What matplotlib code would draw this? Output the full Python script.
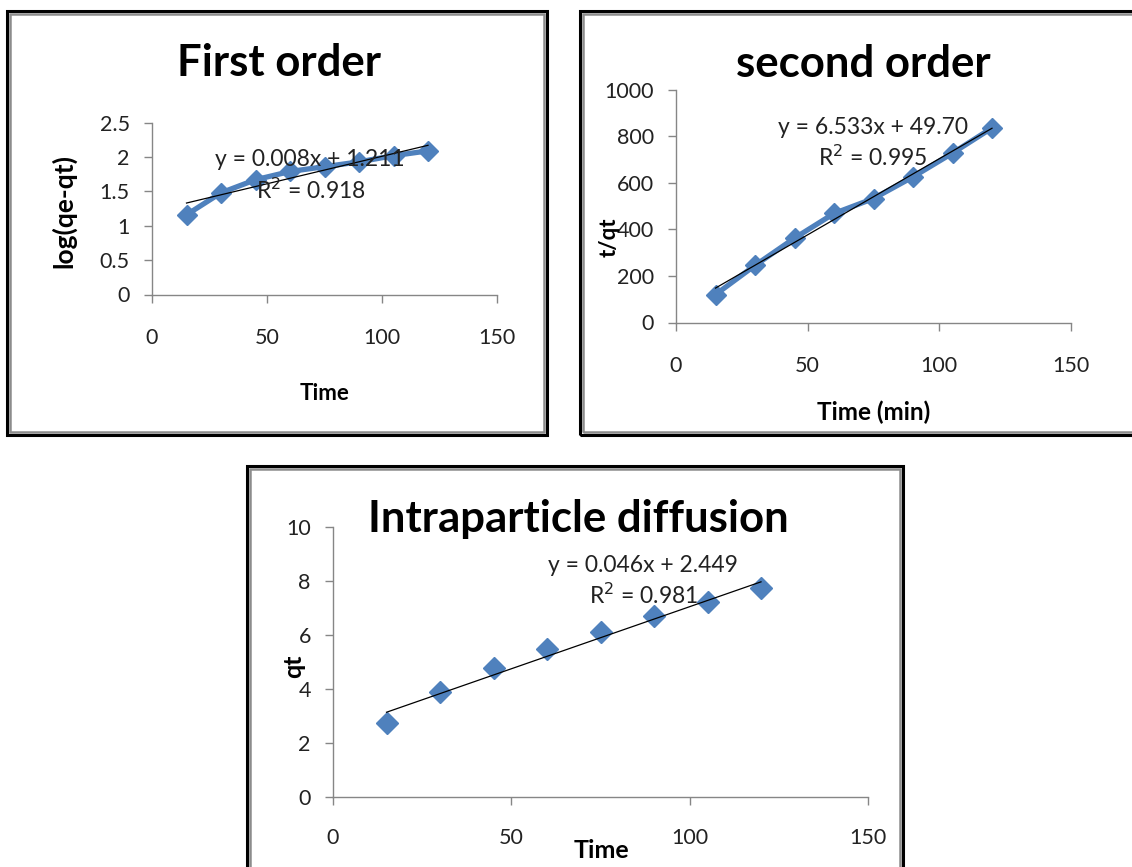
import matplotlib
matplotlib.use("Agg")
import matplotlib.pyplot as plt
from matplotlib.patches import Rectangle
import numpy as np

# ---------------- data ----------------
time = [15, 30, 45, 60, 75, 90, 105, 120]

first_order = [1.16, 1.48, 1.67, 1.79, 1.86, 1.93, 2.02, 2.09]
first_fit = (0.008, 1.211)
first_eq = "y = 0.008x + 1.211"
first_r2 = "R$^2$ = 0.918"

second_order = [120, 245, 362, 468, 532, 625, 727, 835]
second_fit = (6.533, 49.70)
second_eq = "y = 6.533x + 49.70"
second_r2 = "R$^2$ = 0.995"

intra = [2.74, 3.89, 4.78, 5.50, 6.12, 6.72, 7.24, 7.74]
intra_fit = (0.046, 2.449)
intra_eq = "y = 0.046x + 2.449"
intra_r2 = "R$^2$ = 0.981"

xticks = [0, 50, 100, 150]
yticks1 = [0, 0.5, 1, 1.5, 2, 2.5]
yticks1_lbl = ["0", "0.5", "1", "1.5", "2", "2.5"]
yticks2 = [0, 200, 400, 600, 800, 1000]
yticks3 = [0, 2, 4, 6, 8, 10]

# ---------------- layout ----------------
W, H = 1132, 867
fig = plt.figure(figsize=(W / 100, H / 100), dpi=100)
FONT = "Lato"
BLUE = "#4F81BD"
GREY = "#868686"
TXT = "#222222"


def fx(x):
    return x / W


def fy(y):
    return 1 - y / H


def add_axes(x0, x1, ytop, ybot):
    return fig.add_axes([fx(x0), fy(ybot), fx(x1 - x0), (ybot - ytop) / H])


def frame(x0, y0, x1, y1):
    # outer black border with inner grey line (Excel chart area)
    fig.patches.append(Rectangle((fx(x0), fy(y1)), fx(x1 - x0), (y1 - y0) / H,
                                 transform=fig.transFigure, fill=False,
                                 ec="black", lw=2.2, zorder=0))
    fig.patches.append(Rectangle((fx(x0 + 3), fy(y1 - 3)), fx(x1 - x0 - 6), (y1 - y0 - 6) / H,
                                 transform=fig.transFigure, fill=False,
                                 ec="#8c8c8c", lw=1.8, zorder=0))


def style(ax, yt, ylbl, ylim, xpad):
    ax.set_xlim(0, 150)
    ax.set_ylim(*ylim)
    ax.set_xticks(xticks)
    ax.set_yticks(yt)
    if ylbl is not None:
        ax.set_yticklabels(ylbl)
    for s in ["top", "right"]:
        ax.spines[s].set_visible(False)
    for s in ["left", "bottom"]:
        ax.spines[s].set_color(GREY)
        ax.spines[s].set_linewidth(1.0)
    ax.tick_params(axis="both", direction="out", length=6, width=1.0, color=GREY,
                   labelsize=15.5, labelcolor=TXT)
    ax.tick_params(axis="y", pad=10)
    ax.tick_params(axis="x", pad=xpad)
    for lab in ax.get_xticklabels() + ax.get_yticklabels():
        lab.set_fontfamily(FONT)
    ax.set_facecolor("none")


def trend(ax, fit):
    xs = np.array([time[0], time[-1]])
    ax.plot(xs, fit[0] * xs + fit[1], color="black", lw=0.9, zorder=4)


def label(x, y, s, size, rot=0, bold=True, color="black"):
    fig.text(fx(x), fy(y), s, ha="center", va="center", rotation=rot,
             fontsize=size, fontweight="bold" if bold else "normal",
             family=FONT, color=color)


# Panel frames
frame(7, 11, 547, 435)
frame(580, 11, 1145, 435)
frame(247, 466, 903, 880)

# ---------- Panel 1: First order ----------
ax1 = add_axes(152, 497, 122.7, 294.5)
style(ax1, yticks1, yticks1_lbl, (0, 2.5), 18)
ax1.plot(time, first_order, color=BLUE, lw=3.8, marker="D", ms=10, mec=BLUE, zorder=3)
trend(ax1, first_fit)
label(279, 63, "First order", 31.5)
label(64, 211, "log(qe-qt)", 19, rot=90)
label(325, 393, "Time", 16)
label(310, 160, first_eq, 16.5, bold=False, color=TXT)
label(311, 190, first_r2, 16.5, bold=False, color=TXT)

# ---------- Panel 2: second order ----------
ax2 = add_axes(676, 1071, 89.5, 322.5)
style(ax2, yticks2, None, (0, 1000), 18)
ax2.plot(time, second_order, color=BLUE, lw=3.8, marker="D", ms=10, mec=BLUE, zorder=3)
trend(ax2, second_fit)
label(863, 64, "second order", 31.5)
label(609, 237, "t/qt", 16, rot=90)
label(874, 412, "Time (min)", 17.5)
label(873, 127, second_eq, 16.5, bold=False, color=TXT)
label(873, 157, second_r2, 16.5, bold=False, color=TXT)

# ---------- Panel 3: Intraparticle diffusion ----------
ax3 = add_axes(333, 868, 527, 797)
style(ax3, yticks3, None, (0, 10), 16)
ax3.plot(time, intra, linestyle="none", marker="D", ms=11.5, color=BLUE, mec=BLUE, zorder=3)
trend(ax3, intra_fit)
label(578, 519, "Intraparticle diffusion", 31.5)
label(294, 666, "qt", 18, rot=90)
label(601, 850, "Time", 18)
label(643, 566, intra_eq, 16.5, bold=False, color=TXT)
label(644, 595, intra_r2, 16.5, bold=False, color=TXT)

fig.savefig("out.png", dpi=100, facecolor="white")
